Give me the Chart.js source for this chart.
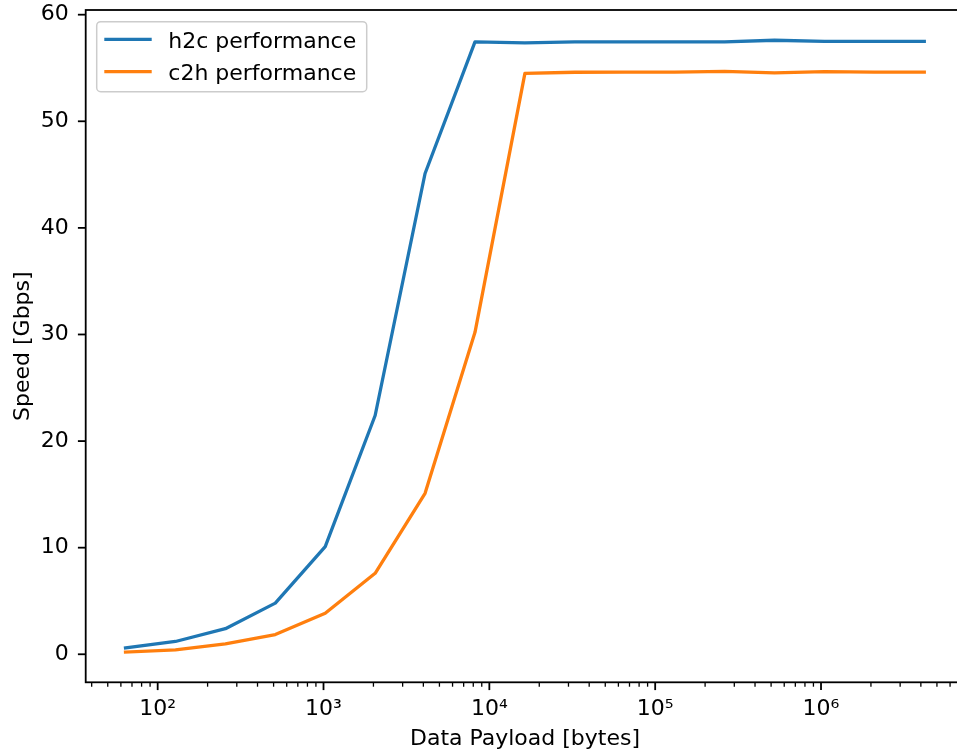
<!DOCTYPE html>
<html><head><meta charset="utf-8">
<script src="https://cdn.jsdelivr.net/npm/chart.js@4"></script>
<style>
html,body{margin:0;padding:0;overflow:hidden;background:#fff;width:957px;height:754px}
#wrap{position:absolute;left:0;top:0;width:975px;height:754px}
</style></head>
<body><div id="wrap"><canvas id="c" width="975" height="754"></canvas></div>
<script>
const payloadBytes = [64,128,256,512,1024,2048,4096,8192,16384,32768,65536,131072,262144,524288,1048576,2097152,4194304];
const h2cSpeed = [0.6,1.2,2.4,4.8,10.1,22.4,45.1,57.45,57.35,57.45,57.45,57.45,57.45,57.6,57.5,57.5,57.5];
const c2hSpeed = [0.2,0.42,0.97,1.85,3.85,7.6,15.1,30.2,54.5,54.6,54.62,54.62,54.68,54.55,54.65,54.62,54.62];
const seriesLabels = ['h2c performance','c2h performance'];
const seriesColors = ['#1f77b4','#ff7f0e'];
const xMajorTicks = [100,1000,10000,100000,1000000];
const xTickLabels = ['10²','10³','10⁴','10⁵','10⁶'];
const yTicks = [0,10,20,30,40,50,60];
const xLabel = 'Data Payload [bytes]';
const yLabel = 'Speed [Gbps]';

const X_MIN = Math.pow(10,1.566), X_MAX = Math.pow(10,6.864);
const Y_MIN = -2.63, Y_MAX = 60.44;

function xTickValues(){
  const out=[];
  for(let d=10; d<=1e7; d*=10){
    for(let m=1;m<=9;m++){ const v=m*d; if(v>=X_MIN && v<=X_MAX) out.push(v); }
  }
  return out;
}

const FONT = "'DejaVu Sans', sans-serif";
Chart.defaults.font.family = FONT;
Chart.defaults.font.size = 22;
Chart.defaults.color = '#000';

const framePlugin = {
  id:'frame',
  afterDraw(chart){
    const {ctx, chartArea:a, scales} = chart;
    const x=scales.x, y=scales.y;
    ctx.save();
    ctx.strokeStyle='#000';
    ctx.lineWidth=1.8;
    ctx.lineCap='butt';
    ctx.strokeRect(a.left,a.top,a.right-a.left,a.bottom-a.top);
    y.ticks.forEach(t=>{
      const py=y.getPixelForValue(t.value);
      ctx.beginPath(); ctx.moveTo(a.left-7.8,py); ctx.lineTo(a.left,py); ctx.stroke();
    });
    x.ticks.forEach(t=>{
      const px=x.getPixelForValue(t.value);
      const lg=Math.log10(t.value);
      const major=Math.abs(lg-Math.round(lg))<1e-9;
      ctx.lineWidth = major?1.8:1.3;
      ctx.beginPath(); ctx.moveTo(px,a.bottom); ctx.lineTo(px,a.bottom+(major?7.8:4.4)); ctx.stroke();
    });
    // legend
    const lx=a.left+11, ly=a.top+11.7, lw=270, lh=70, r=4;
    ctx.beginPath();
    ctx.roundRect(lx,ly,lw,lh,r);
    ctx.fillStyle='rgba(255,255,255,0.8)';
    ctx.fill();
    ctx.lineWidth=1.5; ctx.strokeStyle='#cccccc'; ctx.stroke();
    chart.data.datasets.forEach((ds,i)=>{
      const cy=ly+17.6+i*32.4;
      ctx.strokeStyle=ds.borderColor; ctx.lineWidth=3.3; ctx.lineCap='butt';
      ctx.beginPath(); ctx.moveTo(lx+7.6,cy); ctx.lineTo(lx+55,cy); ctx.stroke();
      ctx.fillStyle='#000'; ctx.font='22px '+FONT; ctx.textBaseline='alphabetic'; ctx.textAlign='left';
      ctx.fillText(ds.label, lx+71.6, cy+8.5);
    });
    ctx.restore();
  }
};

new Chart(document.getElementById('c'), {
  type:'line',
  data:{
    datasets:[
      {label:seriesLabels[0], data:payloadBytes.map((b,i)=>({x:b,y:h2cSpeed[i]})), borderColor:seriesColors[0], backgroundColor:seriesColors[0]},
      {label:seriesLabels[1], data:payloadBytes.map((b,i)=>({x:b,y:c2hSpeed[i]})), borderColor:seriesColors[1], backgroundColor:seriesColors[1]}
    ]
  },
  options:{
    responsive:false, animation:false, devicePixelRatio:1,
    layout:{padding:{top:10,right:10.7,left:0,bottom:0}},
    elements:{line:{borderWidth:3.3,tension:0,borderJoinStyle:'round',borderCapStyle:'square'},point:{radius:0,hoverRadius:0}},
    plugins:{legend:{display:false},tooltip:{enabled:false}},
    events:[],
    scales:{
      x:{
        type:'logarithmic', position:'bottom', min:X_MIN, max:X_MAX,
        grid:{display:false,drawTicks:false,tickLength:0},
        border:{display:false},
        afterBuildTicks:(s)=>{ s.ticks = xTickValues().map(v=>({value:v})); },
        ticks:{autoSkip:false,maxRotation:0,minRotation:0,padding:14,
          callback:(v)=>{ const i=xMajorTicks.findIndex(m=>Math.abs(m-v)/m<1e-9); return i>=0?xTickLabels[i]:''; }},
        title:{display:true,text:xLabel,padding:{top:0,bottom:2}},
        afterFit:(s)=>{ s.height=71.7; s.paddingLeft=0; s.paddingRight=0; s.paddingTop=0; s.paddingBottom=0; }
      },
      y:{
        type:'linear', position:'left', min:Y_MIN, max:Y_MAX,
        grid:{display:false,drawTicks:false,tickLength:0},
        border:{display:false},
        afterBuildTicks:(s)=>{ s.ticks = yTicks.map(v=>({value:v})); },
        ticks:{padding:17, callback:(v)=>String(v)},
        title:{display:true,text:yLabel,padding:{top:10,bottom:0}},
        afterFit:(s)=>{ s.width=85.7; s.paddingTop=0; s.paddingBottom=0; s.paddingLeft=0; s.paddingRight=0; }
      }
    }
  },
  plugins:[framePlugin]
});
</script>
</body></html>
